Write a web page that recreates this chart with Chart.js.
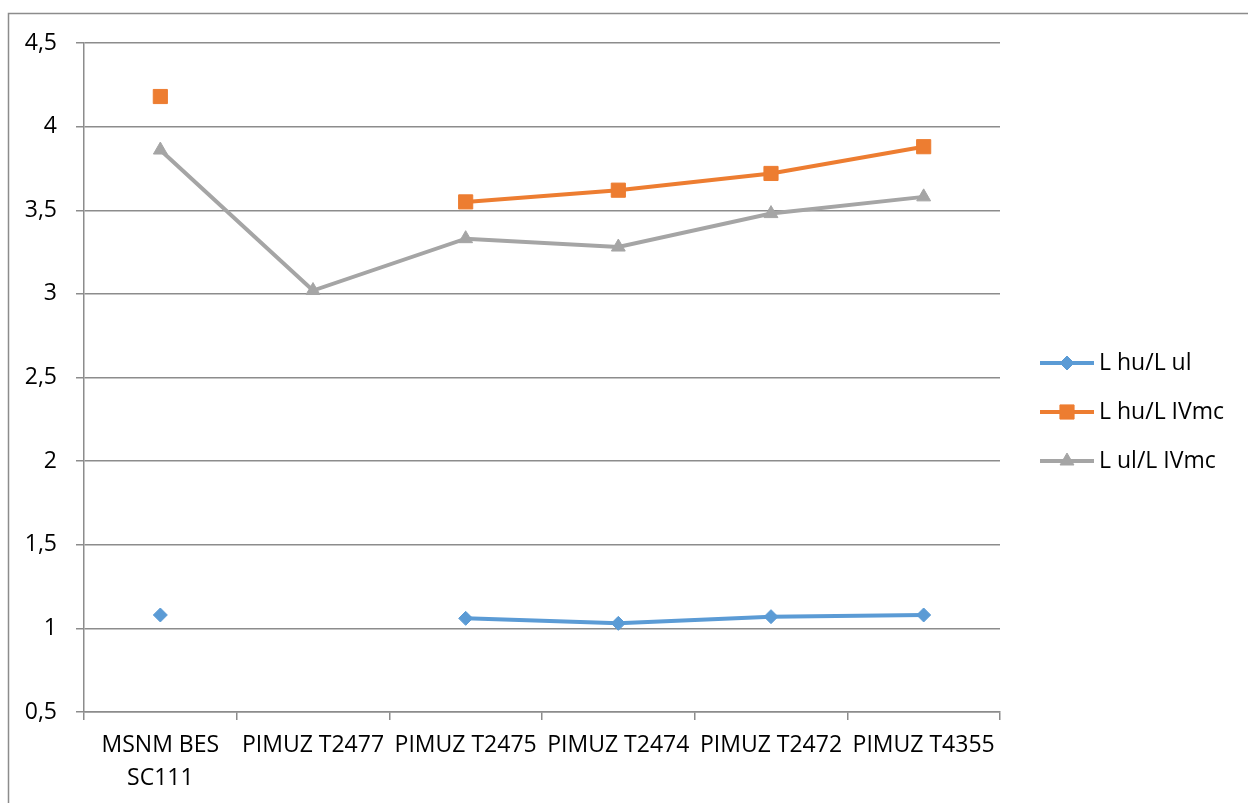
<!DOCTYPE html>
<html>
<head>
<meta charset="utf-8">
<script src="https://cdn.jsdelivr.net/npm/chart.js@4/dist/chart.umd.min.js"></script>
<style>
  html, body { margin: 0; padding: 0; background: #fff; }
  canvas { display: block; }
</style>
</head>
<body>
<canvas id="c" width="1248" height="803"></canvas>
<script>
// Specimens along the x axis
const categories = [['MSNM BES', 'SC111'], 'PIMUZ T2477', 'PIMUZ T2475', 'PIMUZ T2474', 'PIMUZ T2472', 'PIMUZ T4355'];

// Length ratios per specimen (null = not measured)
const huUl   = [1.08, null, 1.06, 1.03, 1.07, 1.08];
const huIVmc = [4.18, null, 3.55, 3.62, 3.72, 3.88];
const ulIVmc = [3.86, 3.02, 3.33, 3.28, 3.48, 3.58];

// Value axis
const yMin = 0.5, yMax = 4.5, yStep = 0.5;

const FONT = "'Open Sans', 'Noto Sans', sans-serif";
const FONT_SIZE = 23;
const AXIS_GREY = '#8c8c8c';

// Outer frame of the chart
const framePlugin = {
  id: 'frame',
  beforeDraw(chart) {
    const ctx = chart.ctx;
    ctx.save();
    ctx.strokeStyle = AXIS_GREY;
    ctx.lineWidth = 1.5;
    ctx.beginPath();
    ctx.moveTo(8.5, chart.height);
    ctx.lineTo(8.5, 13.5);
    ctx.lineTo(chart.width, 13.5);
    ctx.stroke();
    ctx.restore();
  }
};

// Legend on the right: line with marker, then label
const sideLegend = {
  id: 'sideLegend',
  afterDraw(chart) {
    const ctx = chart.ctx;
    ctx.save();
    chart.data.datasets.forEach((ds, i) => {
      const y = 363 + i * 49;
      ctx.strokeStyle = ds.borderColor;
      ctx.lineWidth = 4;
      ctx.beginPath();
      ctx.moveTo(1040, y);
      ctx.lineTo(1094, y);
      ctx.stroke();
      ctx.fillStyle = ds.pointBackgroundColor;
      ctx.strokeStyle = ds.pointBackgroundColor;
      ctx.lineWidth = 1;
      Chart.helpers.drawPoint(ctx, {
        pointStyle: ds.pointStyle,
        radius: ds.pointRadius,
        rotation: 0,
        borderWidth: 1
      }, 1067, y);
      ctx.fillStyle = '#000';
      ctx.font = FONT_SIZE + 'px ' + FONT;
      ctx.textBaseline = 'middle';
      ctx.textAlign = 'left';
      ctx.fillText(ds.label, 1099, y);
    });
    ctx.restore();
  }
};

function series(label, data, color, style, radius) {
  return {
    label,
    data,
    borderColor: color,
    backgroundColor: color,
    pointBackgroundColor: color,
    pointBorderColor: color,
    pointBorderWidth: 1,
    pointStyle: style,
    pointRadius: radius,
    pointHoverRadius: radius,
    borderWidth: 4,
    tension: 0,
    spanGaps: false
  };
}

new Chart(document.getElementById('c'), {
  type: 'line',
  data: {
    labels: categories,
    datasets: [
      series('L hu/L ul', huUl, '#5b9bd5', 'rectRot', 7),
      series('L hu/L IVmc', huIVmc, '#ed7d31', 'rect', 10),
      series('L ul/L IVmc', ulIVmc, '#a5a5a5', 'triangle', 8)
    ]
  },
  options: {
    responsive: false,
    animation: false,
    events: [],
    layout: { padding: { top: 43, right: 248, left: 0, bottom: 0 } },
    plugins: {
      legend: { display: false },
      tooltip: { enabled: false }
    },
    scales: {
      x: {
        offset: true,
        grid: {
          offset: true,
          drawOnChartArea: false,
          drawTicks: true,
          tickLength: 8,
          color: AXIS_GREY,
          lineWidth: 1.5
        },
        border: { display: true, color: AXIS_GREY, width: 1.5 },
        ticks: {
          color: '#000',
          font: { family: FONT, size: FONT_SIZE, lineHeight: '33px' },
          padding: 9,
          maxRotation: 0,
          autoSkip: false
        },
        afterFit(scale) { scale.height = 91; }
      },
      y: {
        min: yMin,
        max: yMax,
        grid: {
          color: AXIS_GREY,
          lineWidth: 1.5,
          tickLength: 8,
          drawTicks: true
        },
        border: { display: true, color: AXIS_GREY, width: 1.5 },
        ticks: {
          stepSize: yStep,
          color: '#000',
          padding: 19,
          font: { family: FONT, size: FONT_SIZE },
          callback: v => String(v).replace('.', ',')
        },
        afterFit(scale) { scale.width = 84; }
      }
    }
  },
  plugins: [framePlugin, sideLegend]
});
</script>
</body>
</html>
